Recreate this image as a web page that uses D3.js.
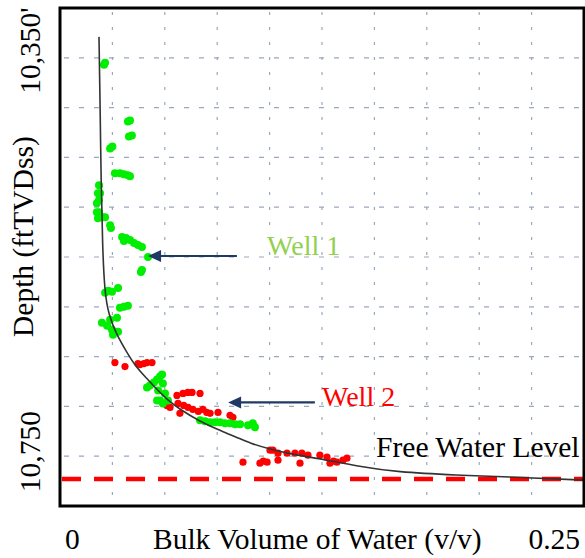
<!DOCTYPE html>
<html>
<head>
<meta charset="utf-8">
<script src="https://cdn.jsdelivr.net/npm/d3@7"></script>
<style>
  body { margin: 0; background: #fff; }
  text { font-family: "Liberation Serif", "Times New Roman", serif; }
</style>
</head>
<body>
<svg id="viz"></svg>
<script>
// chart data: [bulk volume of water (v/v), depth (ftTVDss)]
var well1 = [
  [0.0215, 10355], [0.0210, 10357], [0.0324, 10414], [0.0334, 10413],
  [0.0329, 10429], [0.0343, 10428], [0.0239, 10441], [0.0250, 10439],
  [0.0262, 10466], [0.0286, 10466], [0.0305, 10467], [0.0324, 10468],
  [0.0334, 10469], [0.0186, 10478], [0.0181, 10486], [0.0191, 10486],
  [0.0176, 10496], [0.0186, 10493], [0.0176, 10505], [0.0186, 10505],
  [0.0181, 10511], [0.0205, 10510], [0.0215, 10510], [0.0239, 10518],
  [0.0243, 10521], [0.0296, 10530], [0.0305, 10534], [0.0315, 10531],
  [0.0334, 10533], [0.0353, 10536], [0.0372, 10538], [0.0391, 10540],
  [0.0420, 10550], [0.0391, 10563], [0.0386, 10565], [0.0215, 10586],
  [0.0230, 10584], [0.0248, 10585], [0.0277, 10581], [0.0286, 10601],
  [0.0305, 10600], [0.0324, 10599], [0.0200, 10616], [0.0239, 10613],
  [0.0272, 10611], [0.0225, 10619], [0.0248, 10623], [0.0253, 10628],
  [0.0277, 10625], [0.0487, 10668], [0.0477, 10670], [0.0463, 10673],
  [0.0448, 10676], [0.0429, 10679], [0.0415, 10681], [0.0491, 10677],
  [0.0468, 10684], [0.0501, 10687], [0.0463, 10694], [0.0515, 10694],
  [0.0491, 10697], [0.0477, 10694], [0.0668, 10714], [0.0692, 10715],
  [0.0716, 10716], [0.0740, 10716], [0.0763, 10716], [0.0787, 10717],
  [0.0811, 10717], [0.0835, 10718], [0.0859, 10718], [0.0897, 10719],
  [0.0930, 10721], [0.0920, 10717]
];
var well2 = [
  [0.0262, 10656], [0.0310, 10660], [0.0372, 10657], [0.0382, 10658],
  [0.0400, 10657], [0.0415, 10656], [0.0439, 10656], [0.0558, 10689],
  [0.0587, 10687], [0.0610, 10686], [0.0630, 10686], [0.0668, 10687],
  [0.0510, 10699], [0.0525, 10701], [0.0563, 10697], [0.0590, 10699],
  [0.0611, 10701], [0.0572, 10707], [0.0634, 10703], [0.0660, 10705],
  [0.0682, 10703], [0.0700, 10706], [0.0716, 10707], [0.0754, 10706],
  [0.0811, 10709], [0.0825, 10711], [0.0873, 10756], [0.0954, 10757],
  [0.0970, 10755], [0.0988, 10756], [0.1002, 10744], [0.1016, 10744],
  [0.1040, 10754], [0.1040, 10747], [0.1083, 10747], [0.1121, 10747],
  [0.1154, 10747], [0.1183, 10749], [0.1145, 10757], [0.1240, 10749],
  [0.1274, 10751], [0.1288, 10757], [0.1305, 10755], [0.1321, 10756],
  [0.1350, 10754], [0.1369, 10752]
];
// fitted saturation-height curve
var fitCurve = [
  [0.0186, 10329], [0.0191, 10392], [0.0196, 10473], [0.0203, 10540],
  [0.0213, 10585], [0.0232, 10608], [0.0270, 10628], [0.0320, 10646],
  [0.0358, 10659], [0.0410, 10671], [0.0453, 10681], [0.0510, 10693],
  [0.0572, 10703], [0.0668, 10715], [0.0749, 10723], [0.0844, 10731],
  [0.0906, 10737], [0.1002, 10743], [0.1130, 10749], [0.1254, 10753],
  [0.1417, 10760], [0.1608, 10766], [0.1894, 10769], [0.2161, 10771],
  [0.2500, 10774]
];
var freeWaterLevel = 10773;

var xDomain = [0, 0.25];
var yDomain = [10300, 10800];
var xGrid = [0.025, 0.05, 0.075, 0.1, 0.125, 0.15, 0.175, 0.2, 0.225];
var yGrid = [10350, 10400, 10450, 10500, 10550, 10600, 10650, 10700, 10750];
var xTickLabels = ['0', '0.25'];
var yTickValues = [10350, 10750];
var yTickLabels = ["10,350'", '10,750'];

// annotations: label text, arrow start/end in data units
var arrows = [
  { label: 'Well 1', color: '#92d050', from: [0.0844, 10549], to: [0.0420, 10549], text: [0.0988, 10548] },
  { label: 'Well 2', color: '#ff0000', from: [0.1216, 10696], to: [0.0802, 10696], text: [0.1250, 10700] }
];

var width = 585;
var height = 558;
var margin = { top: 8, right: 1, bottom: 52, left: 60 };

var svg = d3.select('#viz')
            .attr('width', width)
            .attr('height', height);

svg.append('rect').attr('width', width).attr('height', height).attr('fill', '#fff');

var xScale = d3.scaleLinear().domain(xDomain).range([margin.left, width - margin.right]);
var yScale = d3.scaleLinear().domain(yDomain).range([margin.top, height - margin.bottom]);

// grid
svg.append('g').selectAll('line').data(xGrid).enter().append('line')
   .attr('x1', d => xScale(d)).attr('x2', d => xScale(d))
   .attr('y1', yScale(yDomain[0])).attr('y2', yScale(yDomain[1]))
   .attr('stroke', '#9aa8be').attr('stroke-width', 1.2)
   .attr('stroke-dasharray', '3,12').attr('stroke-dashoffset', -4);
svg.append('g').selectAll('line').data(yGrid).enter().append('line')
   .attr('y1', d => yScale(d)).attr('y2', d => yScale(d))
   .attr('x1', xScale(xDomain[0])).attr('x2', xScale(xDomain[1]))
   .attr('stroke', '#9aa8be').attr('stroke-width', 1.2)
   .attr('stroke-dasharray', '5,10').attr('stroke-dashoffset', -4);

// free water level
svg.append('line')
   .attr('x1', xScale(0)).attr('x2', xScale(0.25))
   .attr('y1', yScale(freeWaterLevel)).attr('y2', yScale(freeWaterLevel))
   .attr('stroke', '#ff0000').attr('stroke-width', 4.5)
   .attr('stroke-dasharray', '19,13').attr('stroke-dashoffset', -2);

// well points
svg.append('g').selectAll('circle').data(well2).enter().append('circle')
   .attr('cx', d => xScale(d[0])).attr('cy', d => yScale(d[1]))
   .attr('r', 3.6).attr('fill', '#ff0000');
svg.append('g').selectAll('circle').data(well1).enter().append('circle')
   .attr('cx', d => xScale(d[0])).attr('cy', d => yScale(d[1]))
   .attr('r', 4).attr('fill', '#00ee00');

// fitted curve
var line = d3.line()
             .x(d => xScale(d[0]))
             .y(d => yScale(d[1]))
             .curve(d3.curveBasis);
svg.append('path').datum(fitCurve)
   .attr('d', line).attr('fill', 'none')
   .attr('stroke', '#333').attr('stroke-width', 1.6);

// arrows and labels
var navy = '#1f3864';
arrows.forEach(function(a){
    var x0 = xScale(a.from[0]), y0 = yScale(a.from[1]);
    var x1 = xScale(a.to[0]), y1 = yScale(a.to[1]);
    svg.append('line')
       .attr('x1', x0).attr('y1', y0).attr('x2', x1 + 10).attr('y2', y1)
       .attr('stroke', navy).attr('stroke-width', 2.2);
    svg.append('path')
       .attr('d', `M${x1},${y1} L${x1 + 13},${y1 - 6} L${x1 + 13},${y1 + 6} Z`)
       .attr('fill', navy);
    svg.append('text')
       .attr('x', xScale(a.text[0])).attr('y', yScale(a.text[1]))
       .attr('fill', a.color).attr('font-size', 28)
       .text(a.label);
});

svg.append('text')
   .attr('x', xScale(0.1508)).attr('y', yScale(10751))
   .attr('font-size', 29.5).attr('fill', '#000')
   .text('Free Water Level');

// frame
svg.append('rect')
   .attr('x', xScale(0)).attr('y', yScale(yDomain[0]))
   .attr('width', xScale(0.25) - xScale(0)).attr('height', yScale(yDomain[1]) - yScale(yDomain[0]))
   .attr('fill', 'none').attr('stroke', '#000').attr('stroke-width', 3);

// x tick labels
svg.append('text').attr('x', xScale(0) + 5).attr('y', 549)
   .attr('font-size', 29.5).attr('text-anchor', 'start').text(xTickLabels[0]);
svg.append('text').attr('x', xScale(0.25) - 4).attr('y', 549)
   .attr('font-size', 29.5).attr('text-anchor', 'end').text(xTickLabels[1]);

// y tick labels, rotated
yTickValues.forEach(function(v, i){
    svg.append('text')
       .attr('transform', `translate(40, ${yScale(v) + 36}) rotate(-90)`)
       .attr('font-size', 29.5).attr('text-anchor', 'start')
       .text(yTickLabels[i]);
});

// axis titles
svg.append('text').attr('x', 153).attr('y', 549)
   .attr('font-size', 29.5).text('Bulk Volume of Water (v/v)');
svg.append('text')
   .attr('transform', 'translate(33, 337) rotate(-90)')
   .attr('font-size', 29.5).attr('text-anchor', 'start')
   .text('Depth (ftTVDss)');
</script>
</body>
</html>
